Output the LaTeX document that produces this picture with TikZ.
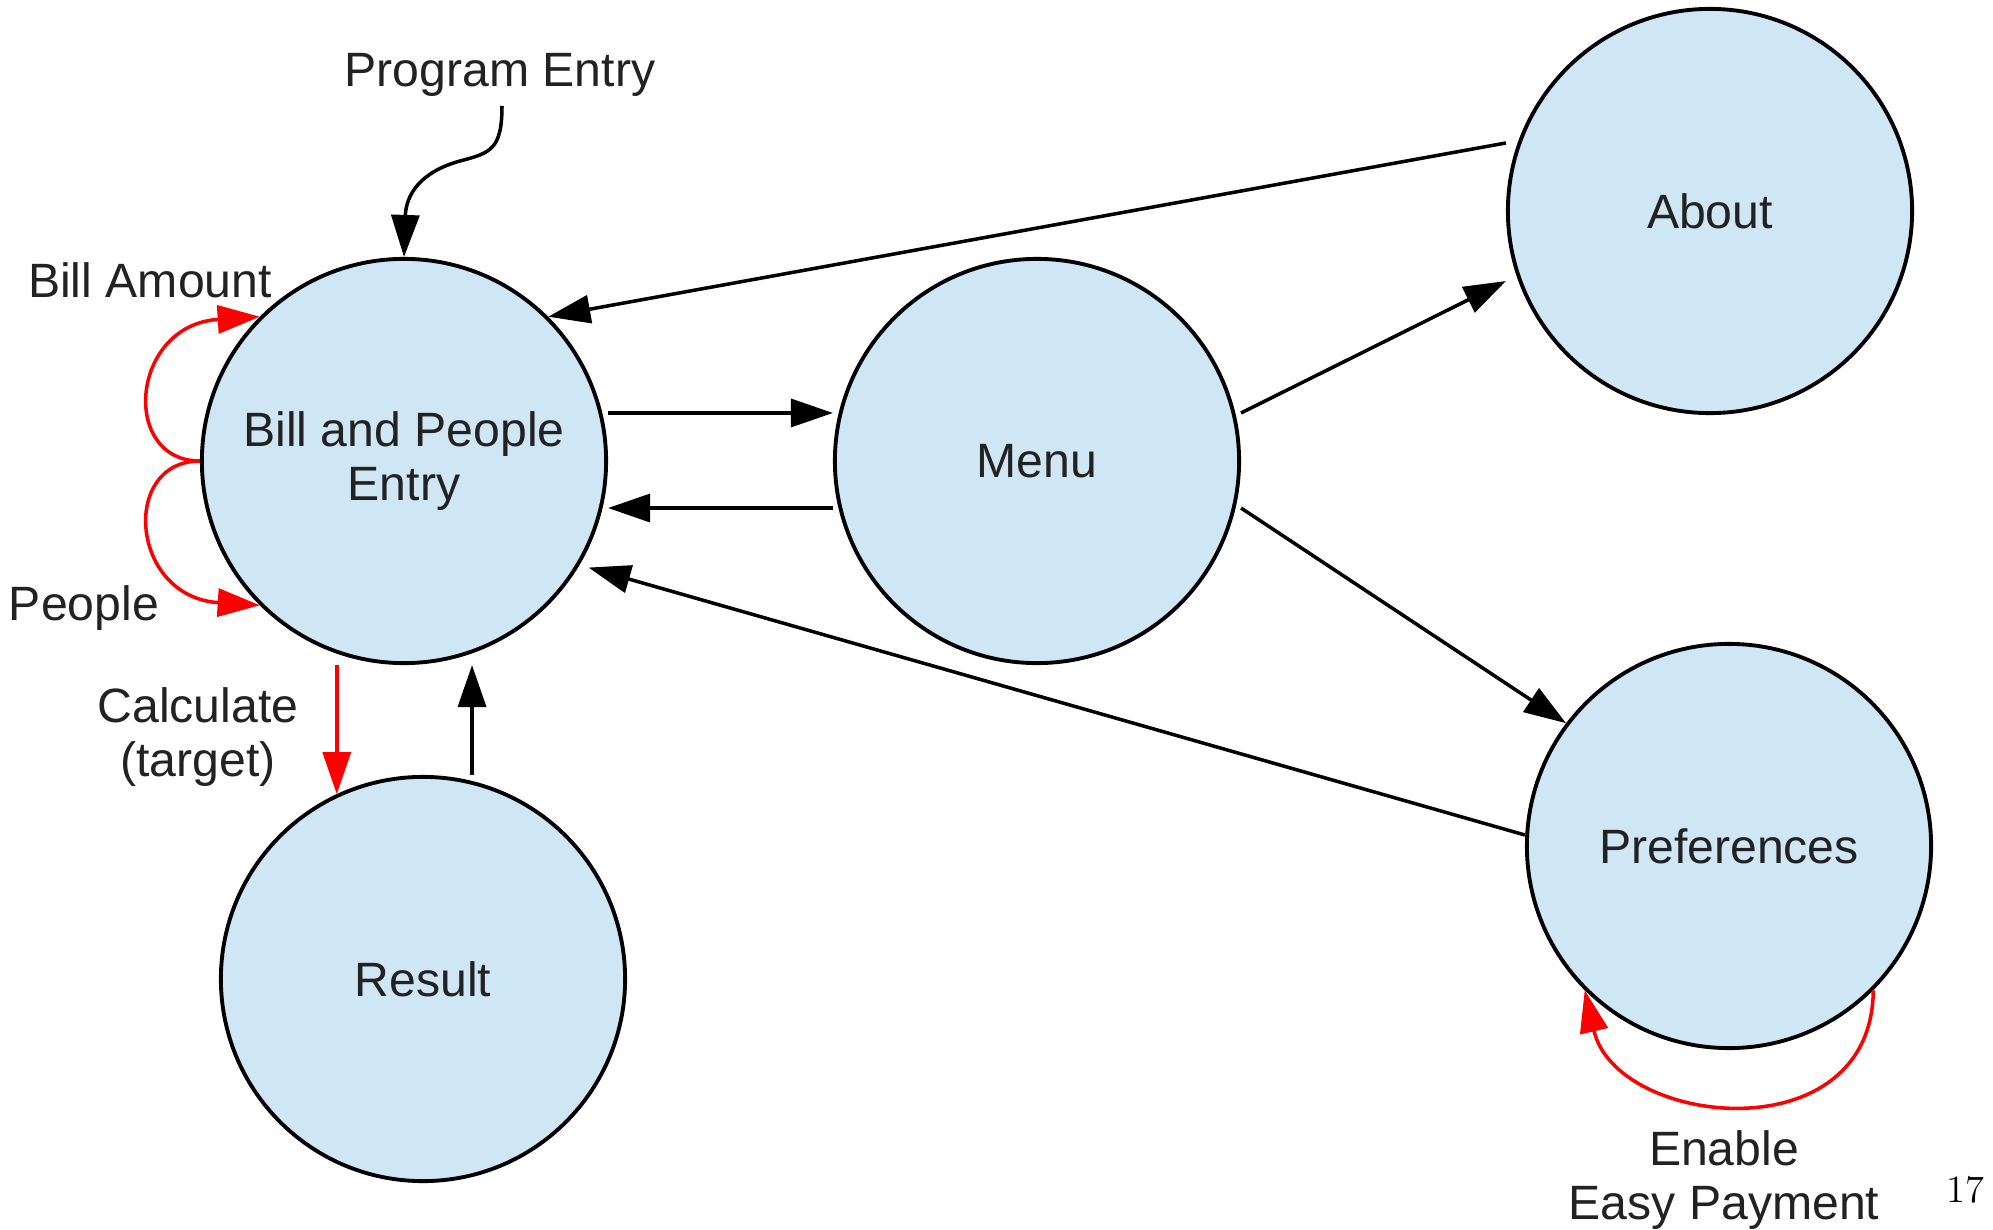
\documentclass[tikz,border=0pt]{standalone}
\usepackage{fontspec}
\newfontfamily\labelfont{Liberation Sans}
\usetikzlibrary{arrows.meta}
\definecolor{statefill}{RGB}{207,230,244}
\definecolor{labelgray}{RGB}{34,34,34}
\tikzset{
  state/.style={circle,draw=black,fill=statefill,line width=1.1pt,minimum size=4.04cm,inner sep=0pt,
    align=center,text=labelgray,font=\labelfont\fontsize{13.7pt}{15.1pt}\selectfont},
  lbl/.style={text=labelgray,align=center,inner sep=0pt,font=\labelfont\fontsize{13.7pt}{15.1pt}\selectfont},
  flow/.style={line width=1pt,-{Triangle[length=0.42cm,width=0.28cm]}},
  redflow/.style={flow,draw=red},
}

\begin{document}
\begin{tikzpicture}[x=0.01cm,y=-0.01cm]
  \useasboundingbox (0,0) rectangle (1993,1230);
  % states
  \node[state] (bill) at (404,461) {Bill and People\\Entry};
  \node[state] (menu) at (1037,461) {Menu};
  \node[state] (about) at (1710,211) {About};
  \node[state] (prefs) at (1729,846) {Preferences};
  \node[state] (result) at (423,979) {Result};
  % labels
  \node[lbl,anchor=base] (entry) at (500,87) {Program Entry};
  \node[lbl,anchor=base] (amount) at (150,297) {Bill Amount};
  \node[lbl,anchor=base] (people) at (84,620) {People};
  \node[lbl] (calc) at (198,737) {Calculate\\(target)};
  \node[lbl] (easy) at (1724,1180) {Enable\\Easy Payment};
  \node[anchor=base,inner sep=0pt,font=\fontsize{11pt}{13pt}\selectfont] (pagenum) at (1965,1202) {17};
  \coordinate (entrytail) at (502,106);
  % transitions
  \draw[flow] (entrytail) .. controls (502,150) and (490,153) .. (460,161)
    .. controls (420,172) and (406,195) .. (bill.north);
  \draw[flow] ([yshift=0.48cm]bill.east) -- ([yshift=0.48cm]menu.west);
  \draw[flow] ([yshift=-0.47cm]menu.west) -- ([yshift=-0.47cm]bill.east);
  \draw[flow] ([yshift=0.48cm]menu.east) -- ([yshift=-0.70cm]about.west);
  \draw[flow] ([yshift=-0.47cm]menu.east) -- (prefs.143);
  \draw[flow] ([yshift=0.68cm]about.west) -- (bill.45);
  \draw[flow] ([yshift=0.11cm]prefs.west) -- ([shift={(-30:2.13cm)}]bill.center);
  \draw[flow] ([xshift=0.49cm]result.north) -- ([xshift=0.49cm]result.north |- bill.south);
  % red self loops and calculate
  \draw[redflow] (result.115 |- bill.south) -- (result.115);
  \draw[redflow] (bill.west) .. controls (120,461) and (130,325) .. (bill.135);
  \draw[redflow] (bill.west) .. controls (120,461) and (130,597) .. (bill.225);
  \draw[redflow] (prefs.-45) .. controls (1872,1155) and (1616,1127) .. (prefs.-135);
\end{tikzpicture}
\end{document}
